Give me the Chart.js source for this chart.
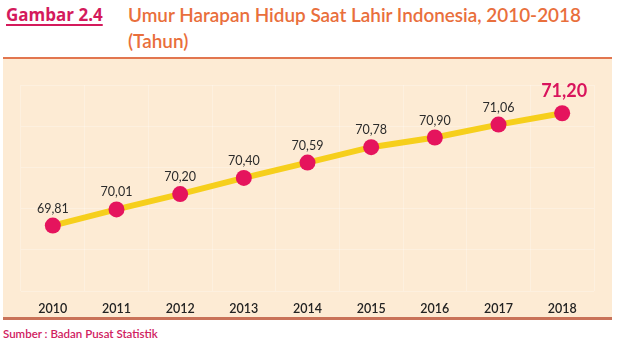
<!DOCTYPE html>
<html>
<head>
<meta charset="utf-8">
<script src="https://cdn.jsdelivr.net/npm/chart.js@4/dist/chart.umd.min.js"></script>
<style>
  html, body { margin: 0; padding: 0; background: #ffffff; width: 620px; height: 349px; overflow: hidden; }
  #wrap { position: relative; width: 620px; height: 349px; font-family: Lato, "Open Sans", sans-serif; }
  #fig { position: absolute; left: 6px; top: 3px; font-family: "Open Sans", Lato, sans-serif; font-size: 17px; font-weight: 700; color: #d41a5c; text-decoration: underline; text-underline-offset: 3px; text-decoration-thickness: 2px; line-height: 24px; }
  #ttl { position: absolute; left: 128px; top: 2px; font-size: 18.9px; font-weight: 600; color: #e96f3c; line-height: 26px; }
  #panel { position: absolute; left: 3px; top: 57px; width: 609px; height: 263px; background: #fdebd4; border-top: 2px solid #e2764f; border-bottom: 3px solid #c97258; box-sizing: border-box; }
  #cv { position: absolute; left: 3px; top: 59px; }
  #src { position: absolute; left: 3px; top: 327px; font-size: 11.5px; font-weight: 600; color: #d0215f; }
</style>
</head>
<body>
<div id="wrap">
  <div id="fig">Gambar 2.4</div>
  <div id="ttl">Umur Harapan Hidup Saat Lahir Indonesia, 2010-2018<br>(Tahun)</div>
  <div id="panel"></div>
  <div id="cv"><canvas id="c" width="609" height="258"></canvas></div>
  <div id="src">Sumber : Badan Pusat Statistik</div>
</div>
<script>
const years = ["2010","2011","2012","2013","2014","2015","2016","2017","2018"];
const lifeExpectancy = [69.81, 70.01, 70.20, 70.40, 70.59, 70.78, 70.90, 71.06, 71.20];
const valueLabels = ["69,81","70,01","70,20","70,40","70,59","70,78","70,90","71,06","71,20"];

const labelPlugin = {
  id: 'valueLabels',
  afterDatasetsDraw(chart) {
    const ctx = chart.ctx;
    const meta = chart.getDatasetMeta(0);
    ctx.save();
    ctx.textAlign = 'center';
    ctx.textBaseline = 'alphabetic';
    meta.data.forEach((pt, i) => {
      const last = i === meta.data.length - 1;
      if (last) {
        ctx.font = '700 18px Lato, "Open Sans", sans-serif';
        ctx.fillStyle = '#d9145c';
        ctx.fillText(valueLabels[i], pt.x + 2, pt.y - 16);
      } else {
        ctx.font = '12.5px Lato, "Open Sans", sans-serif';
        ctx.fillStyle = '#2b2b2b';
        ctx.fillText(valueLabels[i], pt.x, pt.y - 13);
      }
    });
    ctx.restore();
  }
};

new Chart(document.getElementById('c'), {
  type: 'line',
  data: {
    labels: years,
    datasets: [{
      data: lifeExpectancy,
      borderColor: '#f6cf1c',
      borderWidth: 6,
      pointBackgroundColor: '#e5145d',
      pointBorderColor: '#e5145d',
      pointRadius: 8,
      pointBorderWidth: 0,
      tension: 0,
      fill: false
    }]
  },
  options: {
    responsive: false,
    animation: false,
    layout: { padding: { left: 18, right: 18, top: 26, bottom: 4 } },
    plugins: { legend: { display: false }, tooltip: { enabled: false } },
    scales: {
      x: {
        offset: true,
        afterFit(scale) { scale.height = 22; },
        grid: { display: true, offset: true, color: 'rgba(255,255,255,0.25)', drawTicks: false },
        border: { display: false },
        ticks: { padding: 10, maxRotation: 0, color: '#222', font: { family: 'Lato, "Open Sans", sans-serif', size: 12.5, weight: '600' } }
      },
      y: {
        display: true,
        min: 69.0,
        max: 71.55,
        afterFit(scale) { scale.width = 0; },
        grid: { color: 'rgba(255,255,255,0.25)', drawTicks: false },
        border: { display: false },
        ticks: { display: false, stepSize: 0.51 }
      }
    }
  },
  plugins: [labelPlugin]
});
</script>
</body>
</html>
